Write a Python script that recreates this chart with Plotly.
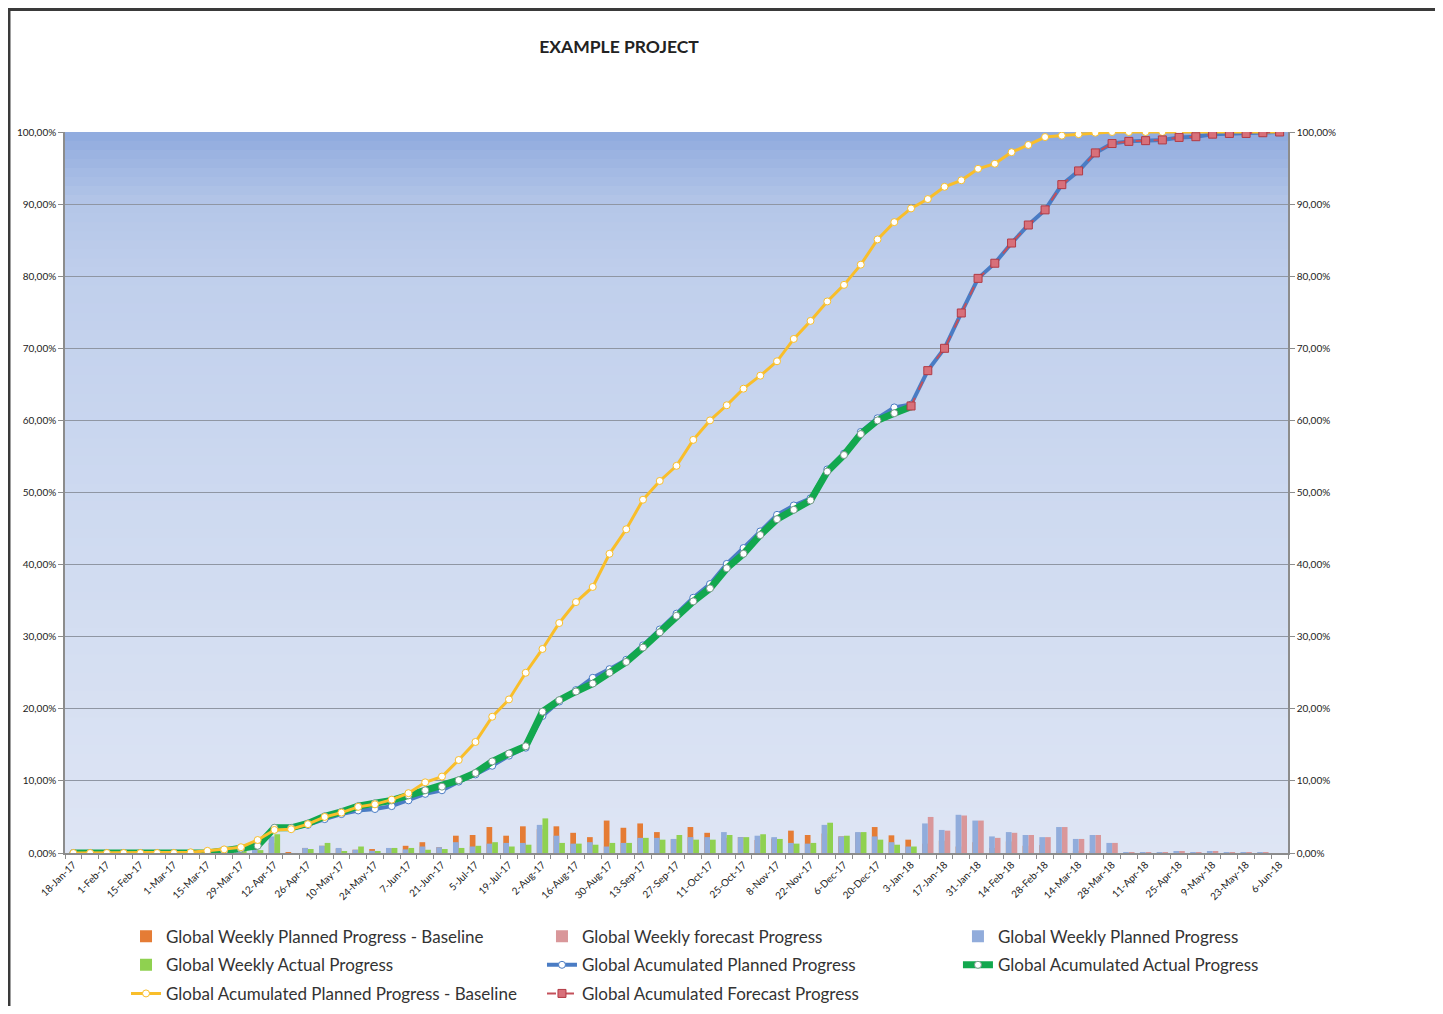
import plotly.graph_objects as go

weeks = ["18-Jan-17","25-Jan-17","1-Feb-17","8-Feb-17","15-Feb-17","22-Feb-17","1-Mar-17","8-Mar-17",
         "15-Mar-17","22-Mar-17","29-Mar-17","5-Apr-17","12-Apr-17","19-Apr-17","26-Apr-17","3-May-17",
         "10-May-17","17-May-17","24-May-17","31-May-17","7-Jun-17","14-Jun-17","21-Jun-17","28-Jun-17",
         "5-Jul-17","12-Jul-17","19-Jul-17","26-Jul-17","2-Aug-17","9-Aug-17","16-Aug-17","23-Aug-17",
         "30-Aug-17","6-Sep-17","13-Sep-17","20-Sep-17","27-Sep-17","4-Oct-17","11-Oct-17","18-Oct-17",
         "25-Oct-17","1-Nov-17","8-Nov-17","15-Nov-17","22-Nov-17","29-Nov-17","6-Dec-17","13-Dec-17",
         "20-Dec-17","27-Dec-17","3-Jan-18","10-Jan-18","17-Jan-18","24-Jan-18","31-Jan-18","7-Feb-18",
         "14-Feb-18","21-Feb-18","28-Feb-18","7-Mar-18","14-Mar-18","21-Mar-18","28-Mar-18","4-Apr-18",
         "11-Apr-18","18-Apr-18","25-Apr-18","2-May-18","9-May-18","16-May-18","23-May-18","30-May-18",
         "6-Jun-18"]

tick_labels = ["18-Jan-17","1-Feb-17","15-Feb-17","1-Mar-17","15-Mar-17","29-Mar-17","12-Apr-17",
               "26-Apr-17","10-May-17","24-May-17","7-Jun-17","21-Jun-17","5-Jul-17","19-Jul-17",
               "2-Aug-17","16-Aug-17","30-Aug-17","13-Sep-17","27-Sep-17","11-Oct-17","25-Oct-17",
               "8-Nov-17","22-Nov-17","6-Dec-17","20-Dec-17","3-Jan-18","17-Jan-18","31-Jan-18",
               "14-Feb-18","28-Feb-18","14-Mar-18","28-Mar-18","11-Apr-18","25-Apr-18","9-May-18",
               "23-May-18","6-Jun-18"]

y_tick_vals = [0, 10, 20, 30, 40, 50, 60, 70, 80, 90, 100]
y_tick_labels = ["0,00%", "10,00%", "20,00%", "30,00%", "40,00%", "50,00%", "60,00%",
                 "70,00%", "80,00%", "90,00%", "100,00%"]

# Weekly values (%)
weekly_baseline = [0,0,0,0,0,0,0,0.1,0.2,0.2,0.3,1.0,1.4,0.1,0.7,1.0,0.6,0.45,0.55,0.65,
                   1.0,1.5,0.8,2.4,2.5,3.6,2.4,3.7,3.3,3.7,2.8,2.2,4.5,3.5,4.1,2.9,1.9,3.6,2.8,2.1,
                   2.2,1.8,2.0,3.1,2.5,2.7,2.3,2.8,3.6,2.45,1.85,1.3,1.7,0.9,1.5,0.7,1.6,1.0,1.1,0.2,
                   0.2,0.2,0.1,0,0,0,0,0,0,0,0,0,0]
weekly_forecast = [None]*51 + [5.0,3.1,5.2,4.5,2.1,2.8,2.5,2.2,3.6,1.95,2.5,1.4,0.1,0.05,0.05,0.15,
                               0.05,0.15,0.05,0.05,0.05,0]
weekly_planned = [0,0,0,0,0,0,0,0,0,0.2,0.3,0.5,2.3,0,0.7,1.0,0.7,0.45,0.3,0.7,
                  0.5,0.9,0.8,1.5,0.9,1.3,1.4,1.4,3.9,2.4,1.3,1.5,0.9,1.4,2.1,2.1,1.95,2.2,2.2,2.9,
                  2.2,2.4,2.2,1.4,1.3,3.9,2.3,2.9,2.3,1.5,0.9,4.1,3.2,5.3,4.5,2.3,2.9,2.5,2.2,3.6,
                  1.95,2.5,1.4,0.1,0.1,0.05,0.2,0.05,0.2,0.05,0.05,0.05,0]
weekly_actual = [0,0,0,0,0,0,0,0,0,0.2,0.3,0.4,2.6,0,0.55,1.4,0.25,0.9,0.25,0.7,
                 0.7,0.45,0.55,0.7,1.0,1.5,0.9,1.15,4.8,1.4,1.3,1.15,1.4,1.4,2.1,1.85,2.5,1.85,1.85,2.5,
                 2.2,2.6,1.95,1.3,1.4,4.2,2.4,2.9,1.85,1.15,0.9] + [None]*22

# Accumulated values (%)
acc_planned = [0,0,0,0,0,0,0,0,0,0.3,0.6,1.2,3.3,3.4,3.9,4.7,5.4,5.9,6.1,6.5,
               7.3,8.2,8.7,9.9,10.9,12.1,13.5,14.6,19.0,21.0,22.6,24.3,25.5,26.8,28.8,31.0,33.2,35.4,37.3,40.1,
               42.3,44.6,46.9,48.2,49.2,53.2,55.4,58.4,60.3,61.8,62.2,66.9,70.0,74.9,79.7,81.8,84.6,87.1,89.2,92.7,
               94.6,97.1,98.4,98.7,98.8,98.9,99.25,99.35,99.7,99.8,99.8,99.9,100]
acc_actual = [0,0,0,0,0,0,0,0,0,0.3,0.6,1.0,3.5,3.5,4.1,5.1,5.7,6.5,6.9,7.3,
              8.0,8.7,9.2,10.1,11.1,12.7,13.8,14.8,19.6,21.2,22.4,23.5,25.0,26.5,28.5,30.6,32.9,34.9,36.7,39.5,
              41.5,44.1,46.3,47.6,48.9,52.9,55.2,58.1,60.0,61.0,61.9] + [None]*22
acc_baseline = [0,0,0,0,0,0,0,0.1,0.3,0.5,0.8,1.8,3.2,3.3,4.0,5.0,5.6,6.4,6.75,7.4,
                8.3,9.8,10.6,12.9,15.4,18.9,21.3,25.0,28.3,31.9,34.8,36.9,41.5,44.9,49.0,51.6,53.7,57.3,60.0,62.1,
                64.4,66.2,68.2,71.3,73.8,76.5,78.8,81.6,85.1,87.5,89.4,90.7,92.4,93.3,94.9,95.6,97.2,98.2,99.3,99.5,
                99.7,99.9,100,100,100,100,100,100,100,100,100,100,100]
acc_forecast = [None]*50 + [62.0,66.9,70.0,74.9,79.7,81.8,84.6,87.1,89.2,92.7,94.6,97.1,98.4,98.7,98.8,
                            98.9,99.25,99.35,99.7,99.8,99.8,99.9,100]

FONT = "Lato"
fig = go.Figure()

BW = 0.34
fig.add_trace(go.Bar(x=weeks, y=weekly_baseline, name="Global Weekly Planned Progress - Baseline",
                     marker=dict(color="#E57C35", line=dict(width=0)), offset=-BW, width=BW,
                     legend="legend", legendgroup="a1"))
fig.add_trace(go.Bar(x=weeks, y=weekly_forecast, name="Global Weekly forecast Progress",
                     marker=dict(color="#D9979A", line=dict(width=0)), offset=0, width=BW,
                     legend="legend2", legendgroup="b1"))
fig.add_trace(go.Bar(x=weeks, y=weekly_planned, name="Global Weekly Planned Progress",
                     marker=dict(color="#91ACDB", line=dict(width=0)), offset=-BW, width=BW,
                     legend="legend3", legendgroup="c1"))
fig.add_trace(go.Bar(x=weeks, y=weekly_actual, name="Global Weekly Actual Progress",
                     marker=dict(color="#8FD150", line=dict(width=0)), offset=0, width=BW,
                     legend="legend", legendgroup="a2"))

fig.add_trace(go.Scatter(x=weeks, y=acc_planned, name="Global Acumulated Planned Progress", yaxis="y2",
                         mode="lines+markers", line=dict(color="#4A7CC4", width=4),
                         marker=dict(symbol="circle", size=7, color="white", line=dict(color="#4A7CC4", width=1)),
                         legend="legend2", legendgroup="b2"))
fig.add_trace(go.Scatter(x=weeks, y=acc_actual, name="Global Acumulated Actual Progress", yaxis="y2",
                         mode="lines+markers", line=dict(color="#12A84E", width=7),
                         marker=dict(symbol="circle", size=7, color="white", line=dict(color="#7a9a8a", width=1)),
                         legend="legend3", legendgroup="c2"))
fig.add_trace(go.Scatter(x=weeks, y=acc_baseline, name="Global Acumulated Planned Progress - Baseline", yaxis="y2",
                         mode="lines+markers", line=dict(color="#F9BE2A", width=3),
                         marker=dict(symbol="circle", size=7, color="white", line=dict(color="#F9BE2A", width=1)),
                         legend="legend", legendgroup="a3"))
fig.add_trace(go.Scatter(x=weeks, y=acc_forecast, name="Global Acumulated Forecast Progress", yaxis="y2",
                         mode="lines+markers", line=dict(color="#C4505A", width=2, dash="dash"),
                         marker=dict(symbol="square", size=8, color="#D8707A", line=dict(color="#B23A44", width=1)),
                         legend="legend2", legendgroup="b3"))

# gradient plot background (style only)
stops = [(0.0, (222, 229, 244)), (0.5, (205, 217, 240)), (0.8, (192, 207, 236)),
         (0.9, (180, 198, 232)), (1.0, (143, 170, 222))]
def grad(t):
    for (t0, c0), (t1, c1) in zip(stops[:-1], stops[1:]):
        if t0 <= t <= t1:
            f = (t - t0) / (t1 - t0)
            return "rgb(%d,%d,%d)" % tuple(round(a + (b - a) * f) for a, b in zip(c0, c1))
    return "rgb(%d,%d,%d)" % stops[-1][1]
N = 80
shapes = []
for k in range(N):
    y0, y1 = k / N, (k + 1) / N
    shapes.append(dict(type="rect", xref="paper", yref="paper", x0=0, x1=1, y0=y0, y1=min(1, y1 + 0.002),
                       fillcolor=grad((y0 + y1) / 2), line=dict(width=0), layer="below"))
# outer frame lines
shapes.append(dict(type="line", xref="paper", yref="paper", x0=-0.047, x1=1.1202, y0=1.1699, y1=1.1699,
                   line=dict(color="#3a3a3a", width=3)))
shapes.append(dict(type="line", xref="paper", yref="paper", x0=-0.0458, x1=-0.0458, y0=-0.2122, y1=1.1699,
                   line=dict(color="#3a3a3a", width=3)))

axis_font = dict(family=FONT, size=10, color="#222")
yaxis_common = dict(range=[0, 100], tickvals=y_tick_vals, ticktext=y_tick_labels,
                    tickfont=axis_font, showline=True, automargin=False,
                    linecolor="#8c8c8c", linewidth=1.5, ticks="outside", ticklen=5, tickcolor="#8c8c8c",
                    zeroline=False, fixedrange=True)

# every week gets a tick mark; only every second week is labelled
x_ticktext = [w if w in tick_labels else "" for w in weeks]

leg_common = dict(orientation="v", xanchor="left", yanchor="top", xref="container", yref="container",
                  bgcolor="rgba(0,0,0,0)", font=dict(family=FONT, size=17, color="#333"),
                  itemwidth=30, tracegroupgap=3.5, y=0.0875)

fig.update_layout(
    width=1427, height=998,
    margin=dict(l=57, r=147, t=124, b=153, autoexpand=False),
    paper_bgcolor="white", plot_bgcolor="#DDE4F3",
    barmode="overlay",
    title=dict(text="<b>EXAMPLE PROJECT</b>", x=0.4282, xref="container", xanchor="center",
               y=0.9609, yref="container", yanchor="middle", font=dict(family=FONT, size=17.5, color="#222")),
    xaxis=dict(type="category", range=[-0.5, 72.5], tickvals=weeks, ticktext=x_ticktext,
               tickangle=-45, tickfont=axis_font, showgrid=False, showline=True, linecolor="#8c8c8c",
               linewidth=2, ticks="outside", tickson="boundaries", ticklen=4, tickcolor="#8c8c8c",
               automargin=False),
    yaxis=dict(**yaxis_common, side="left", showgrid=True, gridcolor="#8f96a3", gridwidth=1),
    yaxis2=dict(**yaxis_common, side="right", overlaying="y", showgrid=False),
    legend=dict(**leg_common, x=0.0827),
    legend2=dict(**leg_common, x=0.3742),
    legend3=dict(**leg_common, x=0.6657),
    shapes=shapes,
    showlegend=True,
)

fig.write_html("out.html")
